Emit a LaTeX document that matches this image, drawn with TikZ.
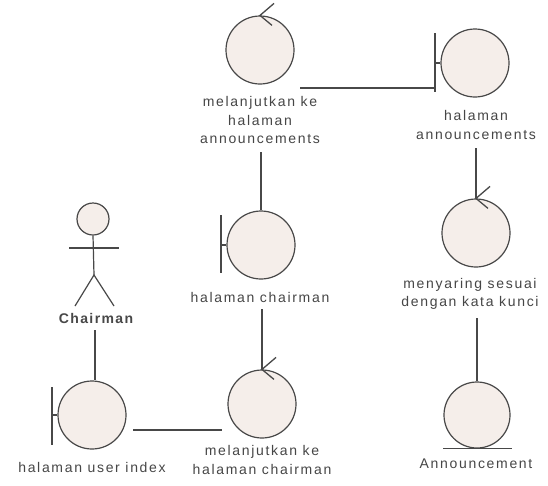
\documentclass[tikz,border=0pt]{standalone}
\usepackage{fontspec}
\newfontfamily\lbl[LetterSpace=12]{Liberation Sans}
\newfontfamily\lblb[LetterSpace=10]{Liberation Sans Bold}
\definecolor{lc}{RGB}{72,72,72}
\definecolor{cf}{RGB}{245,238,234}
\definecolor{tc}{RGB}{70,70,70}
\begin{document}
\begin{tikzpicture}[x=1pt,y=-1pt,
  ln/.style={draw=lc, line width=1.2pt},
  ctlmark/.style={draw=lc, line width=1.3pt},
  ball/.style={circle, draw=lc, line width=1.2pt, fill=cf, minimum size=68pt, inner sep=0pt},
  lab/.style={text=tc, font=\lbl\fontsize{14}{18.5}\selectfont, align=center, inner sep=0pt},
  blab/.style={text=lc, font=\lblb\fontsize{14}{16}\selectfont, inner sep=0pt},
]
\fill[white] (0,0) rectangle (548,485);
\useasboundingbox (0,0) rectangle (548,485);

% control: melanjutkan ke halaman announcements
\node[ball] (ctrlA) at (260,50) {};
\draw[ctlmark] ([shift={(14,-12)}]ctrlA.north) -- (ctrlA.north) -- ([shift={(12,10)}]ctrlA.north);
\node[lab] (labA) at (260,120) {melanjutkan ke\\halaman\\announcements};

% boundary: halaman announcements
\node[ball] (bndA) at (475,63) {};
\coordinate (bAt) at (435,33);
\coordinate (bAb) at (435,92);
\draw[ln] (bAt) -- (bAb);
\draw[ln] (bndA.west) -- (bndA.west -| bAt);
\node[lab] (labB) at (476,125) {halaman\\announcements};

% connector ctrlA -> bndA
\coordinate (cA) at (300,88);
\draw[ln] (cA) -- (cA -| bAt);

% control: menyaring
\node[ball] (ctrlB) at (476,233) {};
\draw[ctlmark] ([shift={(14,-12)}]ctrlB.north) -- (ctrlB.north) -- ([shift={(12,10)}]ctrlB.north);
\node[lab] (labC) at (470,294) {menyaring sesuai\\dengan kata kunci};
\coordinate (cB) at (476,148);
\draw[ln] (cB) -- (ctrlB.north);

% entity: Announcement
\node[ball, minimum size=66pt] (ent) at (477,415) {};
\draw[ln] ([xshift=-34pt]ent.south) -- ([xshift=35pt]ent.south);
\node[lab] (labD) at (476,464) {Announcement};
\coordinate (cC) at (477,318);
\draw[ln] (cC) -- (ent.north);

% boundary: halaman chairman
\node[ball] (bndB) at (261,245) {};
\coordinate (bBt) at (221,215);
\coordinate (bBb) at (221,273);
\draw[ln] (bBt) -- (bBb);
\draw[ln] (bndB.west) -- (bndB.west -| bBt);
\node[lab] (labE) at (260,297) {halaman chairman};
\coordinate (cD) at (261,152);
\draw[ln] (cD) -- (bndB.north);

% control: melanjutkan ke halaman chairman
\node[ball] (ctrlC) at (262,404) {};
\draw[ctlmark] ([shift={(14,-12)}]ctrlC.north) -- (ctrlC.north) -- ([shift={(12,10)}]ctrlC.north);
\node[lab] (labF) at (262,460) {melanjutkan ke\\halaman chairman};
\coordinate (cE) at (262,309);
\draw[ln] (cE) -- (ctrlC.north);

% boundary: halaman user index
\node[ball] (bndC) at (92,415) {};
\coordinate (bCt) at (52,387);
\coordinate (bCb) at (52,445);
\draw[ln] (bCt) -- (bCb);
\draw[ln] (bndC.west) -- (bndC.west -| bCt);
\node[lab] (labG) at (92,467) {halaman user index};
\coordinate (cF) at (133,430);
\coordinate (cG) at (222,430);
\draw[ln] (cF) -- (cG);

% actor: Chairman
\node[ball, minimum size=32pt] (head) at (93,219) {};
\coordinate (armL) at (69,248);
\coordinate (armR) at (119,248);
\coordinate (hip) at (94,275);
\coordinate (footL) at (75,306);
\coordinate (footR) at (114,306);
\draw[ln] (armL) -- (armR);
\draw[ln] (head.south) -- (hip);
\draw[ln] (footL) -- (hip) -- (footR);
\node[blab] (act) at (96,318) {Chairman};
\coordinate (cH) at (95,330);
\draw[ln] (cH) -- (cH |- bndC.north);
\end{tikzpicture}
\end{document}
